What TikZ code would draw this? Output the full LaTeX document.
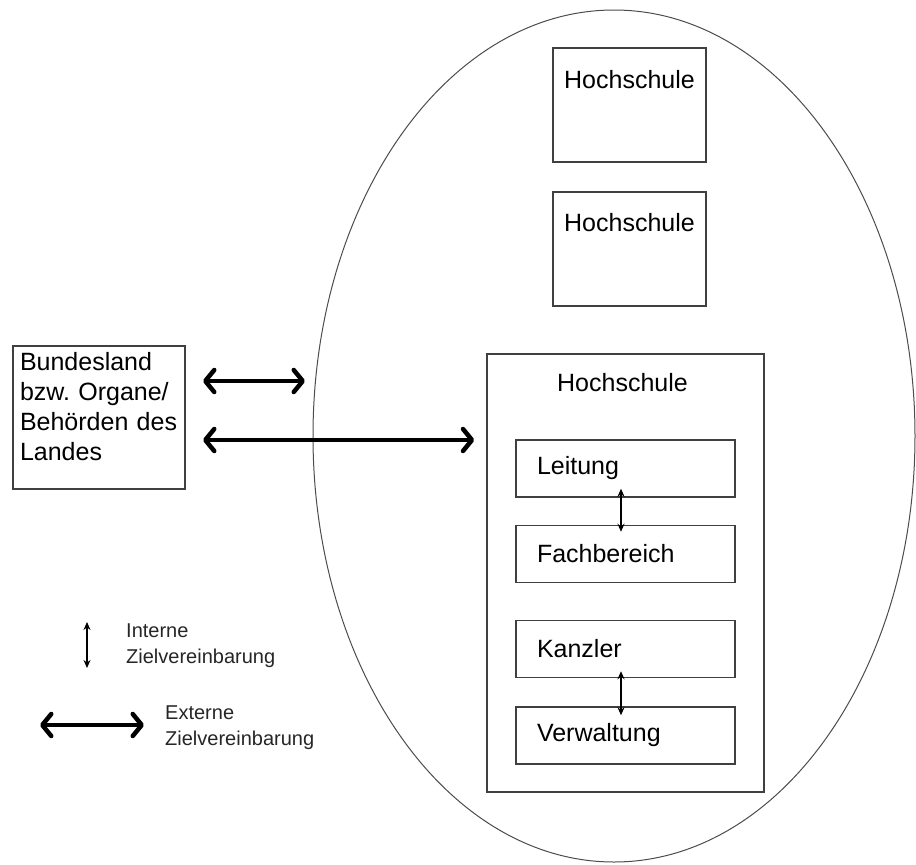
\documentclass[tikz,border=0pt]{standalone}
\usepackage{fontspec}
\setmainfont{Liberation Sans}
\usetikzlibrary{arrows.meta,positioning}

\begin{document}
\begin{tikzpicture}[x=1pt,y=-1pt,
  box/.style={draw=black!75,line width=1.5pt},
  big/.style={font=\fontsize{25}{30}\selectfont},
  hsbox/.style={box,minimum width=153pt,minimum height=114pt},
  unit/.style={box,big,minimum width=219pt,minimum height=57pt,inner xsep=21pt,text width=177pt,align=left},
  title/.style={big,inner sep=0pt},
  legend/.style={font=\fontsize{20}{26}\selectfont,inner sep=0pt,align=left,text=black!85},
  intern/.style={line width=1.5pt,{Stealth[length=8pt,width=7pt]}-{Stealth[length=8pt,width=7pt]}},
  extern/.style={line width=4.5pt,{Straight Barb[length=9pt,width=22pt,round]}-{Straight Barb[length=9pt,width=22pt,round]}}]
  \useasboundingbox (0,0) rectangle (916,865);

  \draw [black!70,line width=1pt] (614,436) ellipse (301 and 426);

  \node [hsbox] (hs1) at (629.5,105) {};
  \node [title] at ([yshift=-32pt]hs1.north) {Hochschule};
  \node [hsbox] (hs2) at (629.5,249) {};
  \node [title] at ([yshift=-31pt]hs2.north) {Hochschule};

  \node [box,minimum width=277pt,minimum height=438pt] (hs3) at (625.5,573) {};
  \node [title] at ([xshift=-3pt,yshift=-29pt]hs3.north) {Hochschule};

  \node [unit] (leitung) at (625.5,468.5) {Leitung};
  \node [unit] (fachber) at (625.5,554) {Fachbereich};
  \node [unit] (kanzler) at (625.5,649) {Kanzler};
  \node [unit] (verw) at (625.5,735.5) {Verwaltung};

  \draw [intern] ([xshift=-4.5pt,yshift=9pt]leitung.south) -- ([xshift=-4.5pt,yshift=-7pt]fachber.north);
  \draw [intern] ([xshift=-4.5pt,yshift=7pt]kanzler.south) -- ([xshift=-4.5pt,yshift=-9pt]verw.north);

  \node [box,big,minimum height=143pt,inner xsep=7pt,text width=158pt,align=left] (land) at (99,417.5)
    {Bundesland\\bzw.\ Organe/\\Behörden des\\Landes\\[-8pt]\mbox{}};

  \coordinate (ext1a) at (203,381);
  \coordinate (ext1b) at (305,381);
  \coordinate (ext2a) at (203,440);
  \draw [extern] (ext1a) -- (ext1b);
  \draw [extern,shorten >=12pt] (ext2a) -- (ext2a -| hs3.west);

  \coordinate (legi1) at (87,622);
  \coordinate (legi2) at (87,668);
  \draw [intern] (legi1) -- (legi2);
  \node [legend,anchor=west] (legitext) at (126,646) {Interne\\Zielvereinbarung};

  \coordinate (lege1) at (40,725);
  \coordinate (lege2) at (144,725);
  \draw [extern] (lege1) -- (lege2);
  \node [legend,anchor=west] (legetext) at (165,727.5) {Externe\\Zielvereinbarung};
\end{tikzpicture}
\end{document}
